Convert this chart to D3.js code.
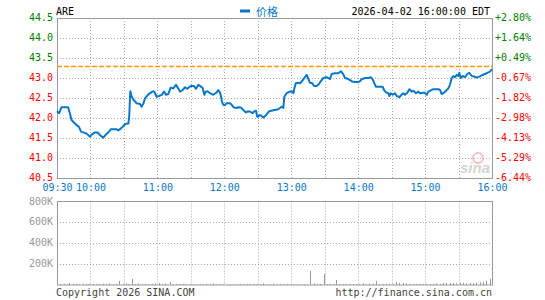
<!DOCTYPE html>
<meta charset="utf-8">

<head>
  <title>ARE</title>
  <style>
    body { margin: 0; background: #fff; }
    svg text { font-family: "DejaVu Sans Mono", monospace; font-size: 10px; }
  </style>
  <script src="https://d3js.org/d3.v7.min.js"></script>
</head>

<body>
  <div id="content">
    <svg width="545" height="300"></svg>
  </div>

  <script>
    var symbol = 'ARE';
    var stamp = '2026-04-02 16:00:00 EDT';
    var prevClose = 43.29;

    // minutes after 09:30
    var priceMinutes = [0, 2, 4, 10, 11.7, 13, 15.5, 17.6, 19.7, 21.5, 26.6, 29.6, 31, 34, 36.5, 38.5, 41.5, 43.6, 46, 48.4,
      53.5, 55, 57.4, 59.5, 61, 64, 64.8, 65.7, 67, 68.7, 71.4, 74.4, 75.9, 77.4, 78.9, 81.9, 85.5, 87.2, 89.4, 91.4,
      93.9, 96, 97.7, 99.8, 101.9, 104.3, 106.7, 108.8, 110.3, 112.7, 114.8, 116.8, 119.9, 122.8, 124.6, 126.7, 128.8, 130.6, 132.1, 133.3,
      134.8, 137.2, 140.1, 143.2, 144.6, 146.1, 147, 147.9, 149.1, 150.6, 152.1, 155.1, 156.6, 158.7, 161.1, 162.5, 165, 167, 169.4, 171.5,
      173, 175.5, 176.9, 178.4, 179.6, 182, 183.5, 185, 187.4, 190.3, 192, 195, 198.4, 201.4, 202.9, 203.8, 205.9, 208, 210.4, 211.9,
      212.8, 214, 215.8, 217.9, 219.9, 221.7, 223.9, 225.3, 226.8, 228.9, 230.4, 232.8, 234.9, 236.7, 238.8, 241.8, 243.3, 244.8, 246.3, 249.2,
      252.2, 254.6, 256.7, 258.2, 260.6, 262.7, 264.8, 267.2, 270.1, 271.7, 273.2, 276.1, 279.1, 281.5, 283.5, 285.1, 286, 289.6, 292, 293.2,
      295, 297, 298, 299.2, 301, 303, 304.6, 306.9, 309, 310.5, 312, 314.1, 315.9, 318, 319.5, 321.9, 324, 325.4, 328.4, 329.9,
      331.5, 332.9, 334.4, 337.4, 341.9, 343.4, 344.9, 346.3, 348.8, 350.8, 352.3, 353.9, 355.3, 356.8, 358.4, 359.8, 360.7, 361.9, 363.7, 365.8,
      367.8, 369.6, 371.8, 373.9, 376.3, 379.2, 381.7, 383.7, 385.8, 388.2, 390];
    var priceValues = [42.17, 42.12, 42.27, 42.27, 42.10, 41.95, 41.88, 41.82, 41.78, 41.66, 41.61, 41.53, 41.58, 41.64, 41.64, 41.57, 41.51, 41.58, 41.64, 41.72,
      41.72, 41.69, 41.74, 41.80, 41.85, 41.86, 42.07, 42.67, 42.53, 42.45, 42.37, 42.35, 42.28, 42.36, 42.49, 42.59, 42.66, 42.66, 42.53, 42.55,
      42.58, 42.66, 42.58, 42.60, 42.76, 42.74, 42.83, 42.73, 42.66, 42.70, 42.77, 42.73, 42.80, 42.80, 42.73, 42.83, 42.79, 42.75, 42.58, 42.66,
      42.67, 42.62, 42.58, 42.64, 42.70, 42.64, 42.55, 42.41, 42.33, 42.32, 42.37, 42.37, 42.33, 42.26, 42.25, 42.27, 42.26, 42.20, 42.14, 42.17,
      42.16, 42.12, 42.17, 42.18, 42.03, 42.07, 42.05, 42.01, 42.07, 42.17, 42.18, 42.20, 42.22, 42.28, 42.25, 42.53, 42.62, 42.65, 42.67, 42.62,
      42.74, 42.87, 42.88, 42.87, 42.93, 43.00, 43.08, 42.98, 42.88, 42.87, 42.80, 42.80, 42.85, 42.93, 43.00, 43.02, 43.00, 42.97, 43.10, 43.12,
      43.12, 43.17, 43.09, 43.00, 42.98, 42.95, 42.91, 42.90, 42.90, 42.92, 42.97, 43.00, 43.00, 43.02, 42.94, 42.83, 42.78, 42.78, 42.78, 42.70,
      42.64, 42.62, 42.55, 42.62, 42.58, 42.62, 42.55, 42.52, 42.58, 42.62, 42.58, 42.63, 42.72, 42.66, 42.68, 42.62, 42.66, 42.62, 42.63, 42.63,
      42.58, 42.66, 42.68, 42.72, 42.72, 42.70, 42.60, 42.62, 42.68, 42.74, 42.83, 43.00, 43.05, 43.02, 43.08, 43.05, 43.13, 43.00, 43.05, 43.02,
      43.10, 43.13, 43.05, 43.04, 43.01, 43.04, 43.08, 43.10, 43.13, 43.16, 43.22];

    // volume bars, minute and shares (thousands)
    var volMinutes = [0, 3, 6, 9, 11, 14, 17, 20, 23, 26, 29, 32, 35, 38, 41, 44, 47, 50, 53, 56, 59, 62, 64, 67, 70, 73, 76, 79, 82, 85,
      88, 91, 94, 97, 101, 104, 107, 110, 113, 116, 119, 122, 125, 128, 131, 134, 137, 140, 143, 146, 149, 152, 155, 158, 161, 164, 167, 170, 173, 176,
      179, 182, 185, 188, 191, 194, 197, 200, 203, 206, 209, 212, 215, 218, 221, 224, 227, 230, 233, 236, 239, 242, 245, 248, 250, 253, 256, 259, 262, 265,
      268, 271, 274, 277, 280, 283, 286, 289, 292, 295, 298, 301, 304, 307, 310, 313, 316, 319, 322, 325, 328, 331, 334, 337, 340, 343, 346, 349, 352, 355,
      358, 361, 364, 367, 370, 373, 376, 379, 382, 385, 388];
    var volValues = [58, 8, 10, 8, 20, 8, 10, 8, 12, 8, 10, 8, 10, 8, 12, 8, 15, 8, 10, 39, 10, 15, 8, 58, 10, 15, 8, 10, 8, 12,
      15, 20, 10, 15, 29, 8, 10, 8, 10, 8, 8, 10, 6, 8, 6, 8, 8, 15, 8, 6, 8, 6, 8, 8, 6, 8, 10, 8, 8, 10,
      8, 8, 15, 8, 8, 12, 8, 8, 10, 8, 8, 8, 8, 8, 8, 6, 135, 15, 8, 10, 106, 8, 8, 8, 48, 8, 8, 8, 10, 10,
      8, 8, 15, 8, 12, 12, 39, 10, 8, 10, 10, 12, 29, 20, 20, 15, 10, 8, 10, 10, 10, 8, 10, 10, 15, 10, 20, 20, 20, 20,
      15, 20, 20, 15, 20, 20, 25, 25, 30, 40, 58];

    var priceTicks = [44.5, 44.0, 43.5, 43.0, 42.5, 42.0, 41.5, 41.0, 40.5];
    var volTicks = [800, 600, 400, 200];
    var gridMinutes = d3.range(0, 391, 30);
    var timeTicks = [0, 30, 90, 150, 210, 270, 330, 390];
    var timeLabels = ['09:30', '10:00', '11:00', '12:00', '13:00', '14:00', '15:00', '16:00'];

    var svg = d3.select('svg');
    var left = 57, right = 492;
    var blue = '#0a78c8', grey = '#999';

    var x = d3.scaleLinear().domain([0, 390]).range([left, right]);
    var y = d3.scaleLinear().domain([40.5, 44.5]).range([178, 18]);
    var yv = d3.scaleLinear().domain([0, 800]).range([285, 201.5]);

    function grid(g, ys, y0, y1) {
      g.selectAll('.h').data(ys).enter().append('line')
        .attr('x1', left).attr('x2', right)
        .attr('y1', function (d) { return Math.round(d) + 0.5; })
        .attr('y2', function (d) { return Math.round(d) + 0.5; });
      g.selectAll('.v').data(gridMinutes.slice(1, -1)).enter().append('line')
        .attr('y1', y0).attr('y2', y1)
        .attr('x1', function (d) { return Math.round(x(d)) + 0.5; })
        .attr('x2', function (d) { return Math.round(x(d)) + 0.5; });
      g.selectAll('line').attr('stroke', '#aaa').attr('stroke-dasharray', '1,2');
    }

    // price panel grid
    grid(svg.append('g'), priceTicks.slice(1, -1).map(y), 18, 178);
    // volume panel grid
    grid(svg.append('g'), volTicks.slice(1).map(yv), 201.5, 285);

    // frames
    svg.append('rect').attr('x', left + 0.5).attr('y', 18.5).attr('width', right - left).attr('height', 160)
      .attr('fill', 'none').attr('stroke', grey);
    svg.append('rect').attr('x', left + 0.5).attr('y', 201.5).attr('width', right - left).attr('height', 83.5)
      .attr('fill', 'none').attr('stroke', grey);

    // watermark
    var wm = svg.append('g').attr('opacity', 0.5);
    wm.append('circle').attr('cx', 478).attr('cy', 158).attr('r', 5).attr('fill', 'none').attr('stroke', '#e88').attr('stroke-width', 2);
    wm.append('text').attr('x', 490).attr('y', 173).attr('text-anchor', 'end')
      .style('font-family', 'Liberation Sans, sans-serif').style('font-size', '15px')
      .style('font-style', 'italic').style('font-weight', 'bold').attr('fill', '#aaa').text('sina');

    // previous close
    svg.append('line').attr('x1', left).attr('x2', right)
      .attr('y1', y(prevClose)).attr('y2', y(prevClose))
      .attr('stroke', '#ff9900').attr('stroke-width', 1.5).attr('stroke-dasharray', '5,2');

    // price line
    var pts = priceMinutes.map(function (m, i) { return [m, priceValues[i]]; });
    svg.append('path').datum(pts)
      .attr('fill', 'none').attr('stroke', blue).attr('stroke-width', 2).attr('stroke-linejoin', 'round')
      .attr('d', d3.line().x(function (d) { return x(d[0]); }).y(function (d) { return y(d[1]); }));

    // volume bars
    svg.append('g').selectAll('line').data(volMinutes).enter().append('line')
      .attr('x1', function (d) { return Math.round(x(d)) + 0.5; })
      .attr('x2', function (d) { return Math.round(x(d)) + 0.5; })
      .attr('y1', 285)
      .attr('y2', function (d, i) { return yv(volValues[i]); })
      .attr('stroke', grey);

    // axes
    function colour(d) { return d > prevClose ? '#008000' : (d < prevClose ? '#ff0000' : '#000'); }

    var ya = svg.append('g').attr('transform', 'translate(' + left + ',0)')
      .call(d3.axisLeft(y).tickValues(priceTicks).tickSize(0).tickPadding(4).tickFormat(d3.format('.1f')));
    ya.select('.domain').remove();
    ya.selectAll('text').attr('fill', colour).attr('dy', '0.25em');

    var yr = svg.append('g').attr('transform', 'translate(' + right + ',0)')
      .call(d3.axisRight(y).tickValues(priceTicks).tickSize(0).tickPadding(3)
        .tickFormat(function (d) { var p = (d / prevClose - 1) * 100; return (p > 0 ? '+' : '') + p.toFixed(2) + '%'; }));
    yr.select('.domain').remove();
    yr.selectAll('text').attr('fill', colour).attr('dy', '0.25em');

    var va = svg.append('g').attr('transform', 'translate(' + left + ',0)')
      .call(d3.axisLeft(yv).tickValues(volTicks).tickSize(0).tickPadding(4).tickFormat(function (d) { return d + 'K'; }));
    va.select('.domain').remove();
    va.selectAll('text').attr('fill', grey).attr('dy', '0.25em');

    var xa = svg.append('g').attr('transform', 'translate(0,178)')
      .call(d3.axisBottom(x).tickValues(timeTicks).tickSize(0).tickPadding(5)
        .tickFormat(function (d, i) { return timeLabels[i]; }));
    xa.select('.domain').remove();
    xa.selectAll('text').attr('fill', blue).attr('dy', '0.75em');

    // header
    svg.append('text').attr('x', 56).attr('y', 15).attr('fill', '#000').text(symbol);
    svg.append('rect').attr('x', 240).attr('y', 9.5).attr('width', 10).attr('height', 3).attr('fill', blue);
    svg.append('text').attr('x', 256).attr('y', 15.5).attr('fill', blue)
      .style('font-family', '"Noto Sans CJK SC", sans-serif').style('font-size', '11px').text('价格');
    svg.append('text').attr('x', 490).attr('y', 15).attr('text-anchor', 'end').attr('fill', '#000').text(stamp);

    // footer
    svg.append('text').attr('x', 56).attr('y', 296).attr('fill', '#444').text('Copyright 2026 SINA.COM');
    svg.append('text').attr('x', 492).attr('y', 296).attr('text-anchor', 'end').attr('fill', '#444').text('http://finance.sina.com.cn');
  </script>
</body>

</html>
